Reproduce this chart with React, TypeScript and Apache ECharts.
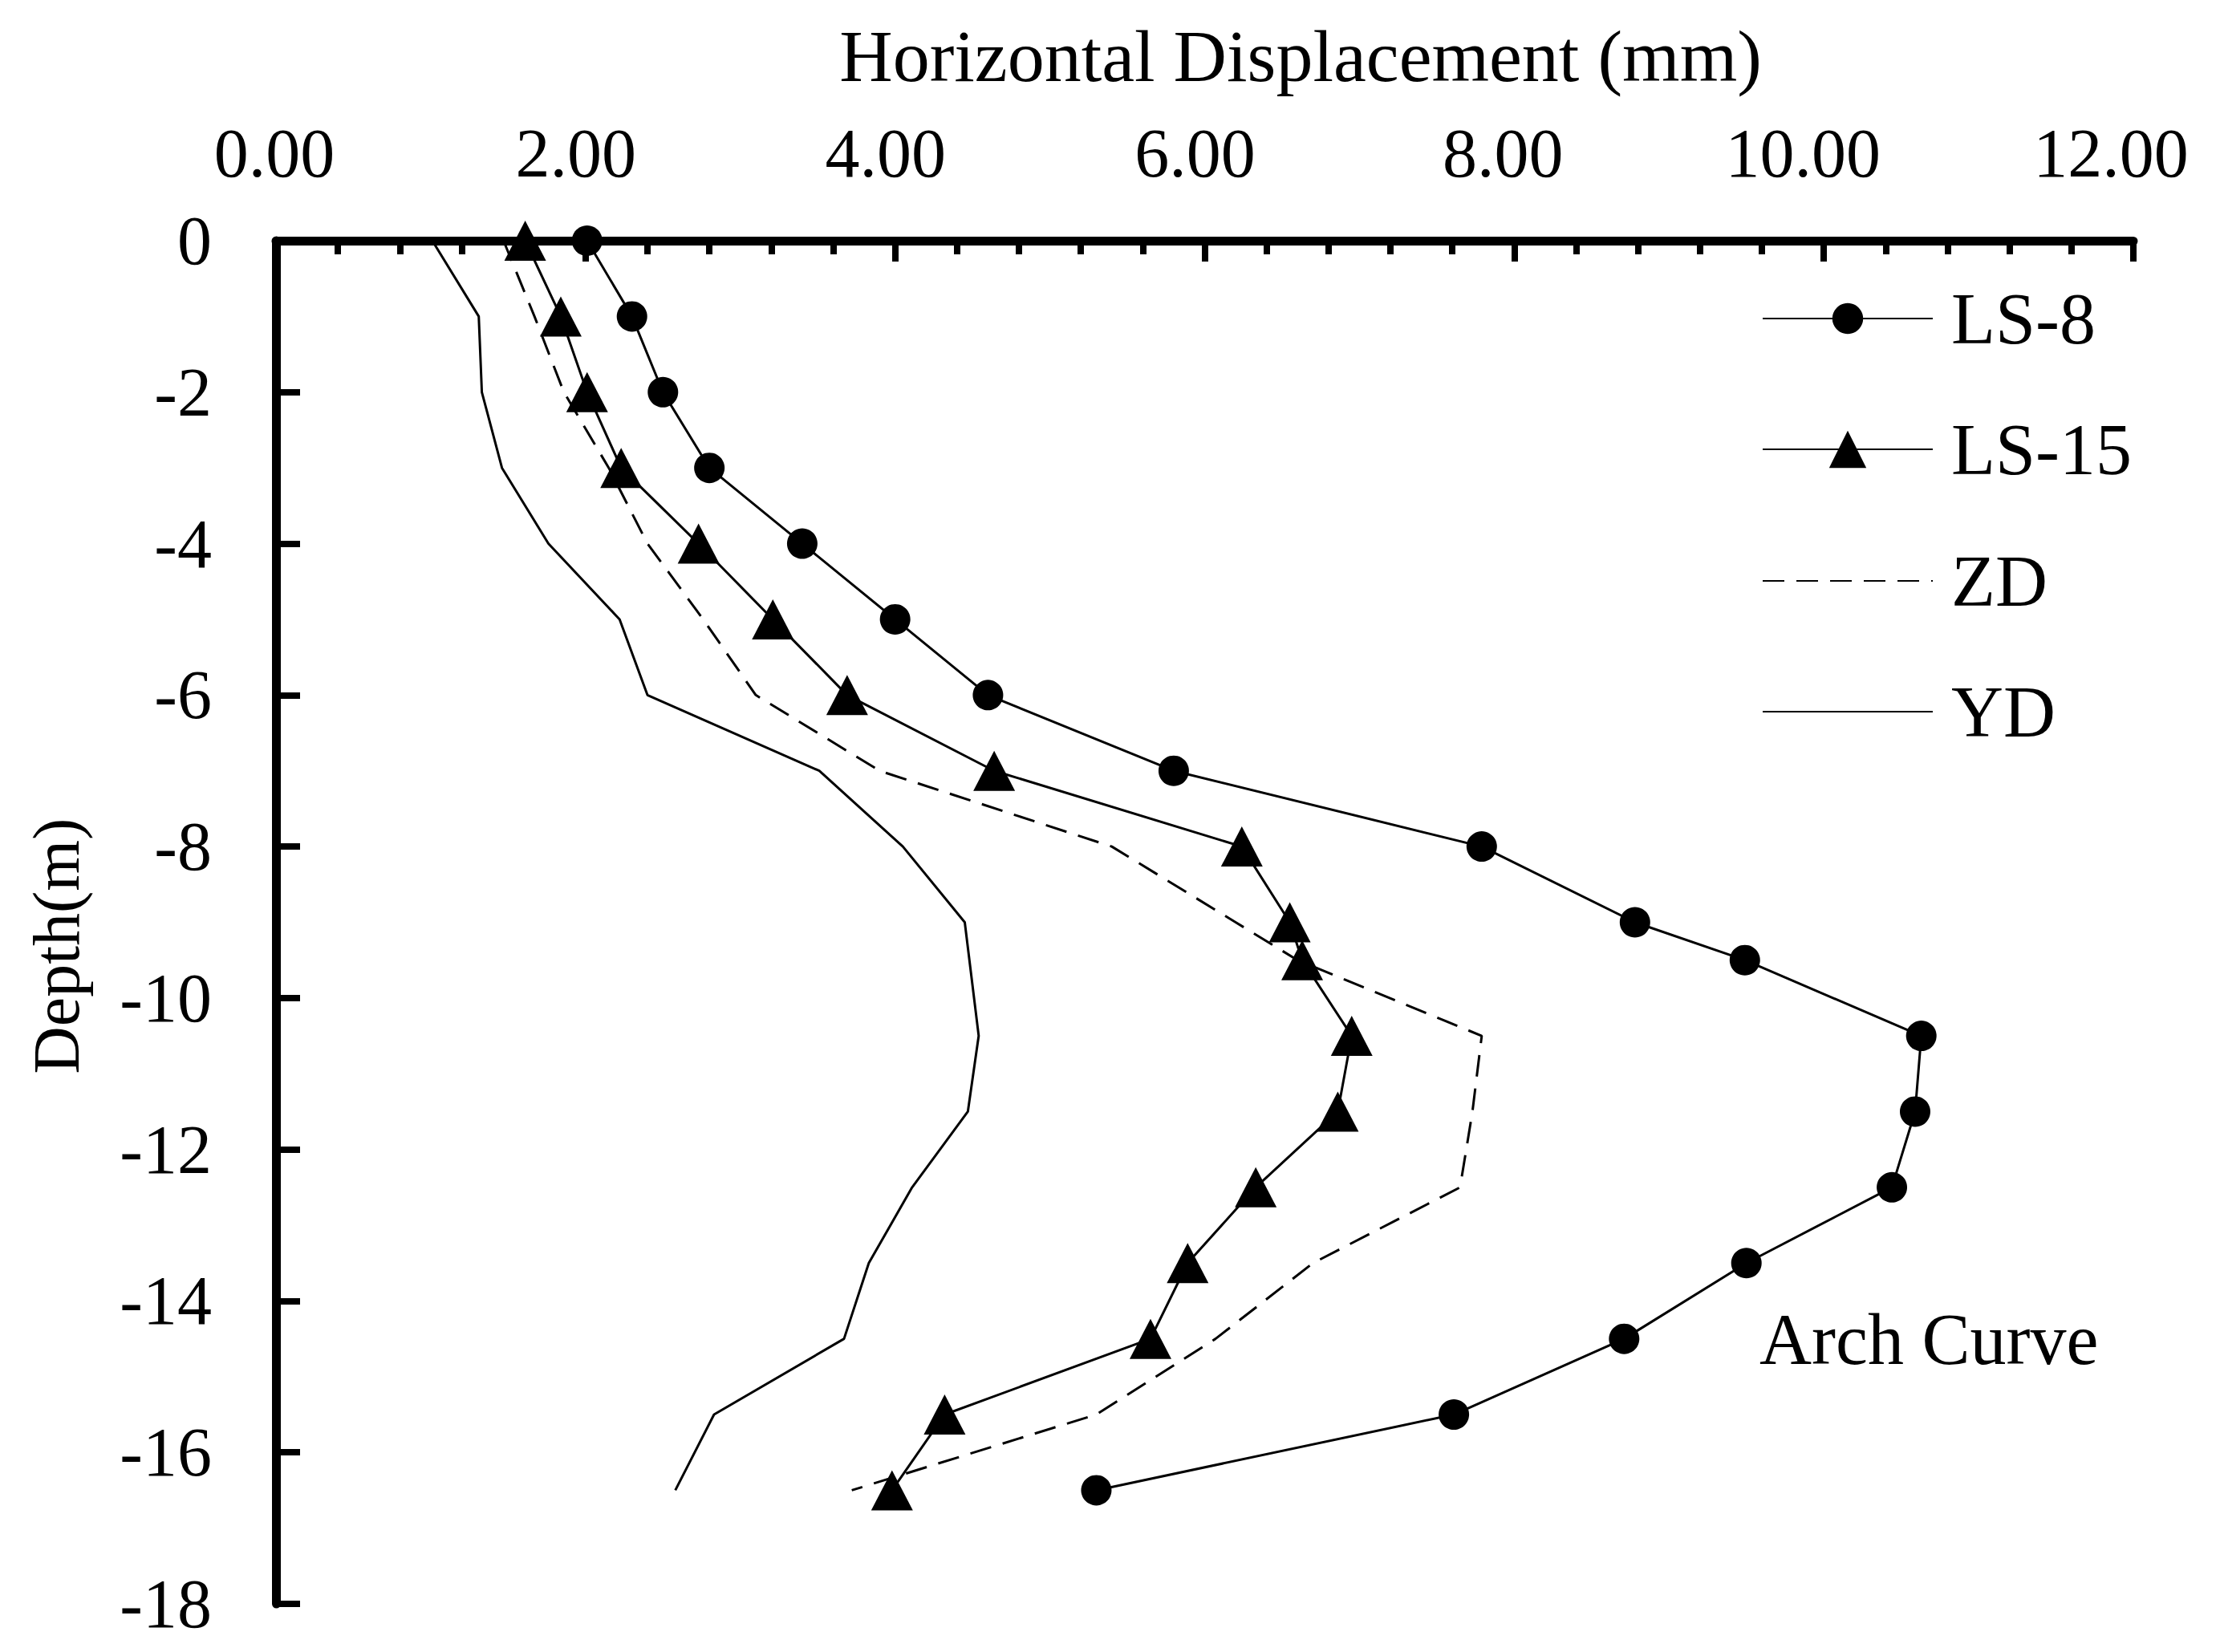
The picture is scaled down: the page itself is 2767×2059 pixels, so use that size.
import React, { useEffect, useRef } from "react";
import * as echarts from "echarts";

const FONT = "'Liberation Serif', 'Times New Roman', serif";

// Depth (m) for the measured series
const depthsMain = [0, -1, -2, -3, -4, -5, -6, -7, -8, -9, -9.5, -10.5, -11.5, -12.5, -13.5, -14.5, -15.5, -16.5];
// Horizontal displacement (mm)
const ls8 = [2.01, 2.3, 2.5, 2.8, 3.4, 4.0, 4.6, 5.8, 7.79, 8.78, 9.49, 10.63, 10.59, 10.44, 9.5, 8.71, 7.61, 5.3];
const ls15 = [1.61, 1.84, 2.01, 2.23, 2.73, 3.21, 3.69, 4.64, 6.24, 6.55, 6.63, 6.95, 6.86, 6.33, 5.89, 5.65, 4.32, 3.98];
const zd = [1.47, 1.67, 1.86, 2.15, 2.4, 2.76, 3.1, 3.9, 5.4, 6.2, 6.6, 7.79, 7.73, 7.65, 6.7, 6.07, 5.3, 3.72];
const ydDepths = [0, -1, -2, -3, -4, -5, -6, -7, -8, -9, -10.5, -11.5, -12.5, -13.5, -14.5, -15.5, -16.5];
const yd = [1.01, 1.31, 1.33, 1.46, 1.76, 2.22, 2.4, 3.51, 4.05, 4.45, 4.54, 4.47, 4.11, 3.83, 3.67, 2.83, 2.58];

const seriesNames = ["LS-8", "LS-15", "ZD", "YD"];
const xTitle = "Horizontal Displacement (mm)";
const yTitle = "Depth(m)";
const annotation = "Arch Curve";

// leftward offset (px) of each top-axis label, as in the original (0.00 ... 12.00)
const xLabelShiftPx = [2, 12, 12, 12, 14, 26, 28];

export default function App() {
  const ref = useRef<HTMLDivElement>(null);

  useEffect(() => {
    if (!ref.current) return;
    const chart = echarts.init(ref.current, undefined, { renderer: "svg" });

    const pair = (xs: number[], ys: number[]) => xs.map((v, i) => [v, ys[i]]);
    const legendCenters = [397, 560, 724, 887];
    const legendHeights = [48, 58, 48, 48];

    const legends = seriesNames.map((n, i) => ({
      data: [n],
      orient: "vertical",
      left: 2196,
      top: legendCenters[i] - 45,
      padding: 0,
      itemWidth: 212,
      itemHeight: legendHeights[i],
      selectedMode: false,
      textStyle: {
        fontFamily: FONT,
        fontSize: 90,
        lineHeight: 90,
        color: "#000",
        padding: [0, 0, 0, 18],
      },
      itemStyle: i >= 2 ? { color: "rgba(0,0,0,0)", borderWidth: 0, opacity: 0 } : undefined,
    }));

    const rich: any = {};
    xLabelShiftPx.forEach((s, i) => {
      rich["s" + i] = {
        fontFamily: FONT,
        fontSize: 86,
        color: "#000",
        padding: [0, 2 * s, 0, 0],
      };
    });

    const option: any = {
      animation: false,
      backgroundColor: "#fff",
      grid: { left: 344, top: 300, right: 108, bottom: 60, containLabel: false },
      xAxis: {
        type: "value",
        position: "top",
        min: 0,
        max: 12,
        interval: 2,
        axisLine: { show: true, onZero: false, lineStyle: { color: "#000", width: 11, cap: "round" } },
        axisTick: { show: true, inside: true, length: 26, lineStyle: { color: "#000", width: 8 } },
        minorTick: { show: true, splitNumber: 5, length: 17, lineStyle: { color: "#000", width: 8 } },
        axisLabel: {
          formatter: (v: number) => {
            const idx = Math.round(v / 2);
            return `{s${idx}|${v.toFixed(2)}}`;
          },
          rich,
          fontFamily: FONT,
          fontSize: 86,
          color: "#000",
          margin: 66,
        },
        splitLine: { show: false },
        minorSplitLine: { show: false },
      },
      yAxis: {
        type: "value",
        min: -18,
        max: 0,
        interval: 2,
        axisLine: { show: true, onZero: false, lineStyle: { color: "#000", width: 11, cap: "round" } },
        axisTick: { show: true, inside: true, length: 30, lineStyle: { color: "#000", width: 8 } },
        axisLabel: { fontFamily: FONT, fontSize: 86, color: "#000", margin: 80 },
        splitLine: { show: false },
      },
      legend: legends,
      graphic: [
        {
          type: "text",
          x: 1621,
          y: 70,
          style: { text: xTitle, font: `92px ${FONT}`, fill: "#000", textAlign: "center", textVerticalAlign: "middle" },
        },
        {
          type: "text",
          x: 70,
          y: 1179,
          rotation: Math.PI / 2,
          style: { text: yTitle, font: `82px ${FONT}`, fill: "#000", textAlign: "center", textVerticalAlign: "middle" },
        },
        {
          type: "text",
          x: 2193,
          y: 1669,
          style: { text: annotation, font: `90px ${FONT}`, fill: "#000", textAlign: "left", textVerticalAlign: "middle" },
        },
      ],
      series: [
        {
          name: seriesNames[0],
          type: "line",
          data: pair(ls8, depthsMain),
          symbol: "circle",
          symbolSize: 38,
          clip: false,
          lineStyle: { color: "#000", width: 3 },
          itemStyle: { color: "#000" },
        },
        {
          name: seriesNames[1],
          type: "line",
          data: pair(ls15, depthsMain),
          symbol: "triangle",
          symbolSize: [52, 50],
          clip: false,
          lineStyle: { color: "#000", width: 3 },
          itemStyle: { color: "#000" },
        },
        {
          name: seriesNames[2],
          type: "line",
          data: pair(zd, depthsMain),
          symbol: "none",
          clip: false,
          lineStyle: { color: "#000", width: 3, type: [27, 15] },
          itemStyle: { color: "#000" },
        },
        {
          name: seriesNames[3],
          type: "line",
          data: pair(yd, ydDepths),
          symbol: "none",
          clip: false,
          lineStyle: { color: "#000", width: 3 },
          itemStyle: { color: "#000" },
        },
      ],
    };

    chart.setOption(option);
    return () => chart.dispose();
  }, []);

  return (
    <div
      ref={ref}
      style={{ position: "fixed", left: 0, top: 0, width: 2767, height: 2059, background: "#fff" }}
    />
  );
}
